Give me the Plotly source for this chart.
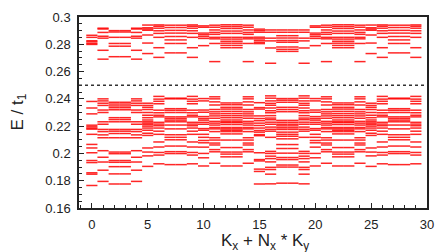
import plotly.graph_objects as go

# Energy levels (E / t1) for each symmetry-distinct momentum column
levels_k0 = [0.2866, 0.2851, 0.2826, 0.2818, 0.2806, 0.2799,
             0.2381, 0.2333, 0.2290, 0.2207, 0.2195, 0.2185, 0.2178, 0.2140, 0.2066, 0.2040,
             0.2005, 0.1948, 0.1933, 0.1858, 0.1848, 0.1765]
levels_k1 = [0.2918, 0.2912, 0.2887, 0.2859, 0.2845, 0.2756, 0.2691,
             0.2400, 0.2385, 0.2368, 0.2352, 0.2318, 0.2300, 0.2232, 0.2214, 0.2176, 0.2160,
             0.2136, 0.2115, 0.2020, 0.1972, 0.1937, 0.1877, 0.1795]
levels_k2 = [0.2900, 0.2890, 0.2851, 0.2806, 0.2786, 0.2709,
             0.2375, 0.2362, 0.2348, 0.2335, 0.2320, 0.2262, 0.2248, 0.2232, 0.2176, 0.2163,
             0.2146, 0.2115, 0.2010, 0.1998, 0.1948, 0.1935, 0.1903, 0.1850, 0.1776]
levels_k5 = [0.2941, 0.2921, 0.2912, 0.2903, 0.2868, 0.2809, 0.2732,
             0.2368, 0.2352, 0.2338, 0.2322, 0.2300, 0.2280, 0.2262, 0.2245, 0.2232, 0.2222,
             0.2212, 0.2200, 0.2186, 0.2170, 0.2148, 0.2132, 0.2040, 0.2010, 0.1982, 0.1905]
levels_k6 = [0.2942, 0.2932, 0.2918, 0.2899, 0.2880, 0.2851, 0.2775, 0.2704,
             0.2418, 0.2398, 0.2382, 0.2364, 0.2317, 0.2298, 0.2280, 0.2268, 0.2228, 0.2215,
             0.2203, 0.2186, 0.2163, 0.2140, 0.2084, 0.2047, 0.2007, 0.1988, 0.1924]
levels_k7 = [0.2940, 0.2923, 0.2902, 0.2882, 0.2857, 0.2832, 0.2806, 0.2737,
             0.2405, 0.2400, 0.2328, 0.2316, 0.2300, 0.2268, 0.2256, 0.2244, 0.2232, 0.2208,
             0.2180, 0.2137, 0.2118, 0.2100, 0.2054, 0.2013, 0.1999, 0.1918]
levels_k10 = [0.2935, 0.2925, 0.2882, 0.2870, 0.2857, 0.2843, 0.2790,
              0.2402, 0.2385, 0.2318, 0.2302, 0.2270, 0.2256, 0.2244, 0.2228, 0.2214, 0.2182,
              0.2170, 0.2140, 0.2118, 0.2095, 0.2078, 0.2046, 0.2000, 0.1968, 0.1908]
levels_k11 = [0.2940, 0.2925, 0.2905, 0.2887, 0.2873, 0.2851, 0.2840, 0.2806, 0.2673,
              0.2415, 0.2400, 0.2378, 0.2355, 0.2322, 0.2305, 0.2290, 0.2275, 0.2258, 0.2235,
              0.2222, 0.2208, 0.2190, 0.2180, 0.2160, 0.2115, 0.2098, 0.2076, 0.2062, 0.2028,
              0.2012, 0.1928]
levels_k12 = [0.2943, 0.2930, 0.2916, 0.2897, 0.2880, 0.2851, 0.2838, 0.2822, 0.2808, 0.2792, 0.2775,
              0.2370, 0.2357, 0.2338, 0.2325, 0.2308, 0.2292, 0.2277, 0.2262, 0.2245, 0.2232,
              0.2226, 0.2212, 0.2190, 0.2180, 0.2170, 0.2160, 0.2143, 0.2098, 0.2043, 0.2010,
              0.1995, 0.1975, 0.1908]
levels_k15 = [0.2911, 0.2900, 0.2888, 0.2852, 0.2840, 0.2828, 0.2815, 0.2805,
              0.2372, 0.2336, 0.2325, 0.2275, 0.2256, 0.2240, 0.2222, 0.2205, 0.2186, 0.2168,
              0.2156, 0.2138, 0.2130, 0.2005, 0.1955, 0.1945, 0.1885, 0.1868, 0.1776]
levels_k16 = [0.2905, 0.2888, 0.2845, 0.2825, 0.2773, 0.2661,
              0.2422, 0.2405, 0.2385, 0.2367, 0.2353, 0.2333, 0.2313, 0.2298, 0.2277, 0.2259,
              0.2247, 0.2229, 0.2214, 0.2193, 0.2177, 0.2163, 0.2118, 0.2015, 0.2000, 0.1980,
              0.1962, 0.1938, 0.1898, 0.1882, 0.1848, 0.1777]
levels_k17 = [0.2905, 0.2888, 0.2863, 0.2846, 0.2828, 0.2815, 0.2780, 0.2763, 0.2748,
              0.2402, 0.2390, 0.2375, 0.2338, 0.2322, 0.2306, 0.2242, 0.2228, 0.2214, 0.2202,
              0.2188, 0.2176, 0.2156, 0.2140, 0.2126, 0.2107, 0.2065, 0.2036, 0.2002, 0.1970,
              0.1955, 0.1915, 0.1900, 0.1782]

# which distinct spectrum belongs to each momentum index k = 0..29
k_index = list(range(30))
spectrum_of_k = [0, 1, 2, 2, 1,
                 5, 6, 7, 7, 6,
                 10, 11, 12, 12, 11,
                 15, 16, 17, 17, 16,
                 10, 11, 12, 12, 11,
                 5, 6, 7, 7, 6]
spectra = {0: levels_k0, 1: levels_k1, 2: levels_k2, 5: levels_k5, 6: levels_k6,
           7: levels_k7, 10: levels_k10, 11: levels_k11, 12: levels_k12,
           15: levels_k15, 16: levels_k16, 17: levels_k17}

gap_line = 0.25
x_ticks = [0, 5, 10, 15, 20, 25, 30]
y_ticks = [0.16, 0.18, 0.2, 0.22, 0.24, 0.26, 0.28, 0.3]
y_tick_text = ["0.16", "0.18", "0.2", "0.22", "0.24", "0.26", "0.28", "0.3"]

xs, ys = [], []
for k in k_index:
    for e in spectra[spectrum_of_k[k]]:
        xs.append(k)
        ys.append(e)

fig = go.Figure()
fig.add_trace(go.Scatter(
    x=xs, y=ys, mode="markers",
    marker=dict(symbol="line-ew", size=8,
                line=dict(color="rgba(255,0,0,0.85)", width=1.5)),
    showlegend=False, hoverinfo="skip"))

fig.add_shape(type="line", xref="paper", x0=0, x1=1, yref="y", y0=gap_line, y1=gap_line,
              line=dict(color="#333333", width=1.4, dash="dot"))

font = "Liberation Sans, Arial, sans-serif"
fig.update_layout(
    width=444, height=252,
    margin=dict(l=79, r=10, t=12, b=44),
    plot_bgcolor="white", paper_bgcolor="white",
    font=dict(family=font, size=13, color="#222222"),
    xaxis=dict(range=[-1.15, 30], tickvals=x_ticks, ticks="inside", ticklen=5,
               tickcolor="#222", showgrid=False, zeroline=False,
               showline=True, linecolor="#222", linewidth=1.5, mirror=True,
               minor=dict(ticks="inside", dtick=1, tick0=0, ticklen=3, tickcolor="#222"),
               ticklabelstandoff=4),
    yaxis=dict(range=[0.16, 0.3], tickvals=y_ticks, ticktext=y_tick_text,
               ticks="inside", ticklen=5, tickcolor="#222",
               showgrid=False, zeroline=False,
               showline=True, linecolor="#222", linewidth=1.5, mirror=True,
               minor=dict(ticks="inside", dtick=0.005, tick0=0.16, ticklen=3, tickcolor="#222"),
               ticklabelstandoff=4),
    annotations=[
        dict(text="K<sub>x</sub> + N<sub>x</sub> * K<sub>y</sub>", xref="paper", yref="paper",
             x=0.535, y=-0.112, xanchor="center", yanchor="top", showarrow=False,
             font=dict(family=font, size=17, color="#222")),
        dict(text="E / t<sub>1</sub>", xref="paper", yref="paper",
             x=-0.175, y=0.5, xanchor="center", yanchor="middle", showarrow=False,
             textangle=-90, font=dict(family=font, size=17, color="#222")),
    ],
)

# remove the default 8px page margin so the figure fills the window exactly
fig.write_html("out.html", config={"displayModeBar": False},
               post_script="document.body.style.margin='0';")
